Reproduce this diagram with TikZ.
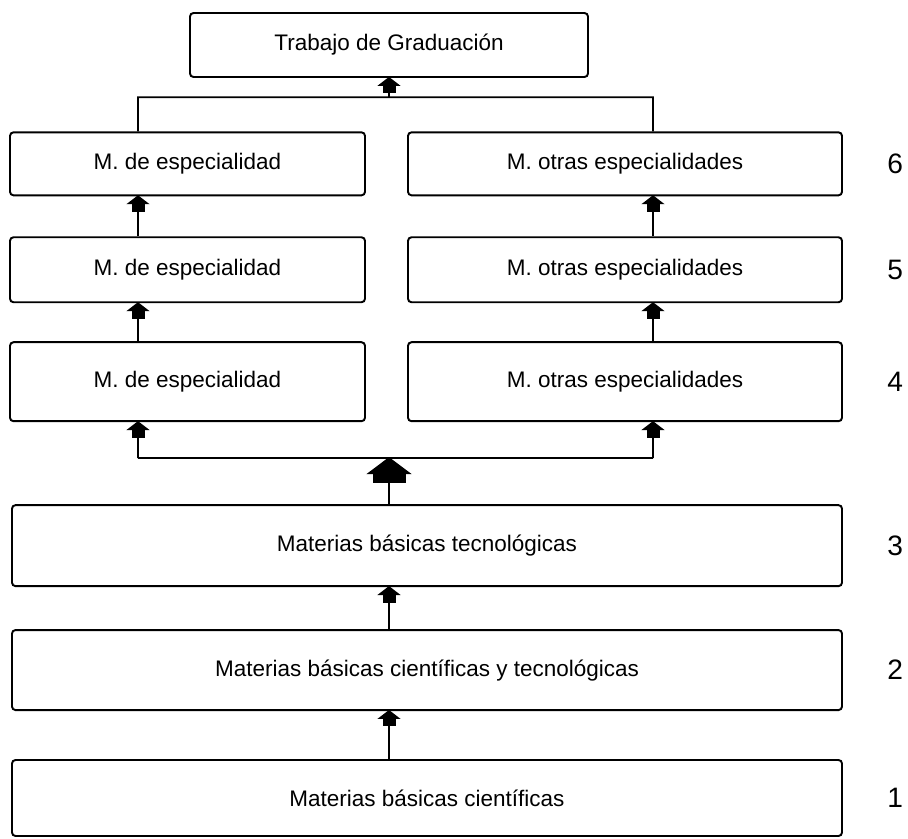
\documentclass[tikz,border=0pt]{standalone}
\usepackage{fontspec}
\setmainfont{Liberation Sans}
\usepackage{tikz}
\usetikzlibrary{arrows.meta, positioning}

\begin{document}
\begin{tikzpicture}[
    box/.style={rectangle, draw, line width=1.1pt, rounded corners=2pt, inner sep=0pt, align=center, font=\fontsize{12.8}{15}\selectfont},
    widebox/.style={box, minimum width=16.6cm},
    espbox/.style={box, minimum width=7.1cm},
    otrbox/.style={box, minimum width=8.68cm},
    levelnum/.style={font=\fontsize{16}{19}\selectfont, inner sep=0pt, anchor=west},
    arrow/.style={-{Rectangle[length=0.15cm,width=0.26cm,sep=0pt] Triangle[length=0.18cm,width=0.46cm,sep=0pt]}, line width=1pt, shorten >=-0.6pt},
    bigarrow/.style={-{Rectangle[length=0.18cm,width=0.66cm,sep=0pt] Triangle[length=0.34cm,width=0.9cm,sep=0pt]}, line width=1pt, shorten >=-0.6pt}
]
\useasboundingbox (0,0) rectangle (18.16,-16.78);

% lower block: common subjects
\node[widebox, minimum height=1.52cm] (b1) at (8.54,-15.96) {Materias básicas científicas};
\node[widebox, minimum height=1.6cm, above=0.96cm of b1] (b2) {Materias básicas científicas y tecnológicas};
\node[widebox, minimum height=1.62cm, above=0.84cm of b2] (b3) {Materias básicas tecnológicas};

% specialty columns
\node[espbox, minimum height=1.58cm, above=1.64cm of b3.north west, anchor=south west, xshift=-0.04cm] (l4) {M. de especialidad};
\node[otrbox, minimum height=1.58cm, above=1.64cm of b3.north east, anchor=south east] (r4) {M. otras especialidades};
\node[espbox, minimum height=1.3cm, above=0.76cm of l4] (l5) {M. de especialidad};
\node[otrbox, minimum height=1.3cm, above=0.76cm of r4] (r5) {M. otras especialidades};
\node[espbox, minimum height=1.26cm, above=0.8cm of l5] (l6) {M. de especialidad};
\node[otrbox, minimum height=1.26cm, above=0.8cm of r5] (r6) {M. otras especialidades};

\node[box, minimum width=7.96cm, minimum height=1.28cm] (tg) at (7.78,-0.9) {Trabajo de Graduación};

% level numbers
\node[levelnum, right=0.88cm of b1] (n1) {1};
\node[levelnum, right=0.88cm of b2] (n2) {2};
\node[levelnum, right=0.88cm of b3] (n3) {3};
\node[levelnum, right=0.88cm of r4] (n4) {4};
\node[levelnum, right=0.88cm of r5] (n5) {5};
\node[levelnum, right=0.88cm of r6] (n6) {6};

% connectors
\draw[arrow] (tg.south |- b1.north) -- (tg.south |- b2.south);
\draw[arrow] (tg.south |- b2.north) -- (tg.south |- b3.south);

\coordinate (jl4) at ([shift={(-0.99,-0.72)}]l4.south);
\coordinate (jr4) at ([shift={(0.56,-0.72)}]r4.south);
\draw[line width=1pt] (jl4) -- (jr4);
\draw[bigarrow] (tg.south |- b3.north) -- (tg.south |- jl4);
\draw[arrow] (jl4) -- ([xshift=-0.99cm]l4.south);
\draw[arrow] (jr4) -- ([xshift=0.56cm]r4.south);

\draw[arrow] ([xshift=-0.99cm]l4.north) -- ([xshift=-0.99cm]l5.south);
\draw[arrow] ([xshift=0.56cm]r4.north) -- ([xshift=0.56cm]r5.south);
\draw[arrow] ([xshift=-0.99cm]l5.north) -- ([xshift=-0.99cm]l6.south);
\draw[arrow] ([xshift=0.56cm]r5.north) -- ([xshift=0.56cm]r6.south);

\coordinate (jl6) at ([shift={(-0.99,0.68)}]l6.north);
\coordinate (jr6) at ([shift={(0.56,0.68)}]r6.north);
\draw[line width=1pt] ([xshift=-0.99cm]l6.north) -- (jl6) -- (jr6) -- ([xshift=0.56cm]r6.north);
\draw[arrow] (tg.south |- jl6) -- (tg.south);
\end{tikzpicture}
\end{document}
